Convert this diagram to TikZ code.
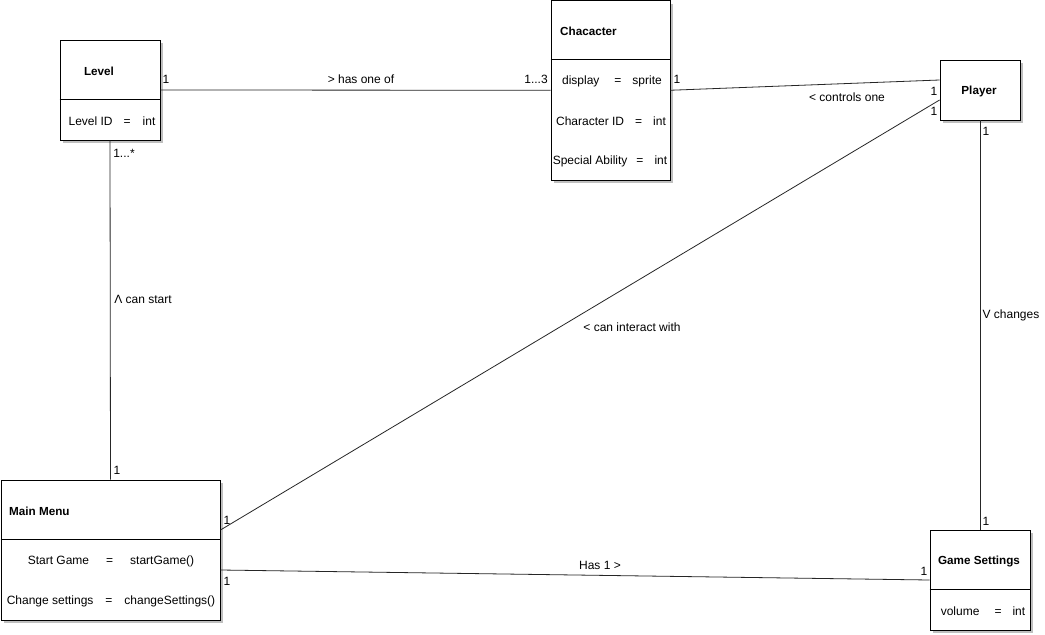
\documentclass[tikz,border=0pt]{standalone}
\usepackage{fontspec}
\setmainfont{Liberation Sans}
\usetikzlibrary{shadows}
\begin{document}
\begin{tikzpicture}[x=1pt,y=-1pt,
  umlbox/.style={draw=black, line width=0.9pt, fill=white, inner sep=0pt,
    drop shadow={shadow xshift=3pt, shadow yshift=-3pt, opacity=1, fill=black!25}},
  conn/.style={draw=black!85, line width=0.8pt},
  lbl/.style={inner sep=0pt, font=\fontsize{12}{14}\selectfont},
  ttl/.style={inner sep=0pt, font=\fontsize{11.7}{13}\selectfont\bfseries},
  every node/.append style={text=black}]
\useasboundingbox (0,0) rectangle (1045,635);
\fill[white] (0,0) rectangle (1045,635);

% boxes
\node[umlbox, minimum width=100pt, minimum height=100pt] (level) at (110,90) {};
\node[umlbox, minimum width=119pt, minimum height=179.5pt] (char) at (610.5,90.25) {};
\node[umlbox, minimum width=80pt, minimum height=60pt] (player) at (980,90) {};
\node[umlbox, minimum width=219pt, minimum height=140pt] (menu) at (110.5,550) {};
\node[umlbox, minimum width=100pt, minimum height=100pt] (settings) at (980,580) {};

% dividers
\foreach \b/\d in {level/60, char/59.5, menu/60, settings/60}{
  \draw[line width=0.9pt] ([yshift=-\d pt]\b.north west) -- ([yshift=-\d pt]\b.north east);
}

% titles
\node[ttl] (levelT) at (99,71) {Level};
\node[ttl, anchor=west] (charT) at (560,31) {Chacacter};
\node[ttl] (playerT) at (979,91) {Player};
\node[ttl, anchor=west] (menuT) at (9,511) {Main Menu};
\node[ttl] (settingsT) at (979,561) {Game Settings};

% attributes
\node[lbl] (a1) at (112,121) {Level ID\hspace{11pt}=\hspace{12pt}int};
\node[lbl] (a2) at (612,81) {display\hspace{15pt}=\hspace{11pt}sprite};
\node[lbl] (a3) at (611,121) {Character ID\hspace{11pt}=\hspace{11pt}int};
\node[lbl] (a4) at (610,161) {Special Ability\hspace{9pt}=\hspace{11pt}int};
\node[lbl] (a5) at (111,561) {Start Game\hspace{17pt}=\hspace{17pt}startGame()};
\node[lbl] (a6) at (111,601) {Change settings\hspace{12pt}=\hspace{12pt}changeSettings()};
\node[lbl] (a7) at (983,611) {volume\hspace{15pt}=\hspace{11pt}int};

% connectors
\draw[conn] (level.east) -- (char.west);
\draw[conn] (char.east) -- ([yshift=10pt]player.west);
\draw[conn] ([yshift=-10pt]player.west) -- ([yshift=20pt]menu.east);
\draw[conn] (level.south) -- (menu.north);
\draw[conn] (player.south) -- (settings.north);
\draw[conn] ([yshift=-20pt]menu.east) -- (settings.west);

% labels
\node[lbl] (l1) at (166,79) {1};
\node[lbl] (l2) at (361,79) {> has one of};
\node[lbl] (l3) at (536,79) {1...3};
\node[lbl] (l4) at (677,79) {1};
\node[lbl] (l5) at (847,97) {< controls one};
\node[lbl] (l6) at (934,91) {1};
\node[lbl] (l7) at (934,111) {1};
\node[lbl] (l8) at (986,131) {1};
\node[lbl] (l9) at (124,153) {1...*};
\node[lbl] (l10) at (143,299) {Λ can start};
\node[lbl] (l11) at (632,327) {< can interact with};
\node[lbl] (l12) at (1011,315) {V changes};
\node[lbl] (l13) at (117,470) {1};
\node[lbl] (l14) at (227,520) {1};
\node[lbl] (l15) at (227,581) {1};
\node[lbl] (l16) at (600,565) {Has 1 >};
\node[lbl] (l17) at (924,571) {1};
\node[lbl] (l18) at (986,521) {1};
\end{tikzpicture}
\end{document}
